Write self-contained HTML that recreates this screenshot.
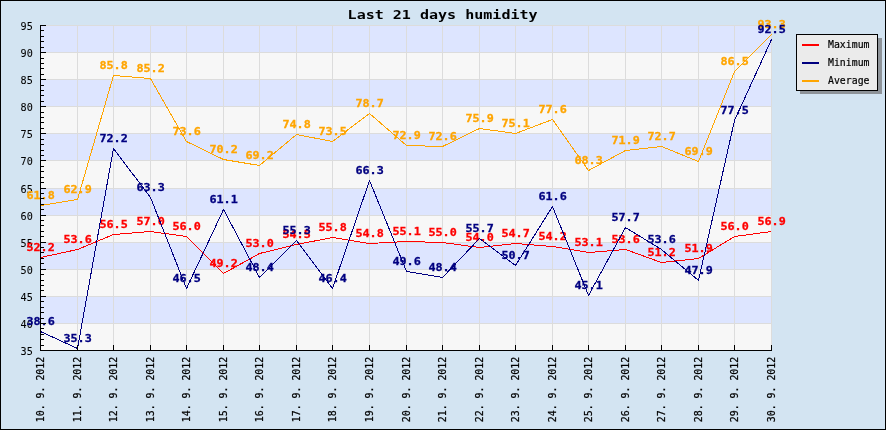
<!DOCTYPE html>
<html lang="en"><head><meta charset="utf-8"><title>Last 21 days humidity</title>
<style>html,body{margin:0;padding:0;background:#D3E4F2;}svg{display:block;}text{font-family:"DejaVu Sans Mono","Liberation Mono",monospace;}.v{font-weight:bold;font-size:11.3px;text-anchor:middle;}.ax{font-family:"Liberation Mono","DejaVu Sans Mono",monospace;font-size:11px;fill:#000;}.lg{font-size:11px;fill:#000;}.t{font-weight:bold;font-size:13px;fill:#000;text-anchor:middle;}</style></head><body>
<svg width="886" height="430" viewBox="0 0 886 430">
<rect x="0" y="0" width="886" height="430" fill="#D3E4F2"/>
<rect x="0.5" y="0.5" width="885" height="429" fill="none" stroke="#000" stroke-width="1"/>
<g shape-rendering="crispEdges">
<rect x="40" y="25" width="732" height="27" fill="#DDE5FF"/>
<rect x="40" y="52" width="732" height="27" fill="#F7F7F7"/>
<rect x="40" y="79" width="732" height="27" fill="#DDE5FF"/>
<rect x="40" y="106" width="732" height="27" fill="#F7F7F7"/>
<rect x="40" y="133" width="732" height="27" fill="#DDE5FF"/>
<rect x="40" y="160" width="732" height="28" fill="#F7F7F7"/>
<rect x="40" y="188" width="732" height="27" fill="#DDE5FF"/>
<rect x="40" y="215" width="732" height="27" fill="#F7F7F7"/>
<rect x="40" y="242" width="732" height="27" fill="#DDE5FF"/>
<rect x="40" y="269" width="732" height="27" fill="#F7F7F7"/>
<rect x="40" y="296" width="732" height="27" fill="#DDE5FF"/>
<rect x="40" y="323" width="732" height="27" fill="#F7F7F7"/>
<rect x="40" y="25" width="732" height="1" fill="#DCDCDC"/>
<rect x="40" y="52" width="732" height="1" fill="#DCDCDC"/>
<rect x="40" y="79" width="732" height="1" fill="#DCDCDC"/>
<rect x="40" y="106" width="732" height="1" fill="#DCDCDC"/>
<rect x="40" y="133" width="732" height="1" fill="#DCDCDC"/>
<rect x="40" y="160" width="732" height="1" fill="#DCDCDC"/>
<rect x="40" y="188" width="732" height="1" fill="#DCDCDC"/>
<rect x="40" y="215" width="732" height="1" fill="#DCDCDC"/>
<rect x="40" y="242" width="732" height="1" fill="#DCDCDC"/>
<rect x="40" y="269" width="732" height="1" fill="#DCDCDC"/>
<rect x="40" y="296" width="732" height="1" fill="#DCDCDC"/>
<rect x="40" y="323" width="732" height="1" fill="#DCDCDC"/>
<rect x="40" y="350" width="732" height="1" fill="#DCDCDC"/>
<rect x="40" y="25" width="1" height="325" fill="#DCDCDC"/>
<rect x="77" y="25" width="1" height="325" fill="#DCDCDC"/>
<rect x="113" y="25" width="1" height="325" fill="#DCDCDC"/>
<rect x="150" y="25" width="1" height="325" fill="#DCDCDC"/>
<rect x="186" y="25" width="1" height="325" fill="#DCDCDC"/>
<rect x="223" y="25" width="1" height="325" fill="#DCDCDC"/>
<rect x="259" y="25" width="1" height="325" fill="#DCDCDC"/>
<rect x="296" y="25" width="1" height="325" fill="#DCDCDC"/>
<rect x="332" y="25" width="1" height="325" fill="#DCDCDC"/>
<rect x="369" y="25" width="1" height="325" fill="#DCDCDC"/>
<rect x="406" y="25" width="1" height="325" fill="#DCDCDC"/>
<rect x="442" y="25" width="1" height="325" fill="#DCDCDC"/>
<rect x="479" y="25" width="1" height="325" fill="#DCDCDC"/>
<rect x="515" y="25" width="1" height="325" fill="#DCDCDC"/>
<rect x="552" y="25" width="1" height="325" fill="#DCDCDC"/>
<rect x="588" y="25" width="1" height="325" fill="#DCDCDC"/>
<rect x="625" y="25" width="1" height="325" fill="#DCDCDC"/>
<rect x="661" y="25" width="1" height="325" fill="#DCDCDC"/>
<rect x="698" y="25" width="1" height="325" fill="#DCDCDC"/>
<rect x="734" y="25" width="1" height="325" fill="#DCDCDC"/>
<rect x="771" y="25" width="1" height="325" fill="#DCDCDC"/>
</g>
<g class="ax" text-anchor="end" stroke="#000" stroke-width="0.08">
<text x="32.8" y="355.2" textLength="12.2" lengthAdjust="spacingAndGlyphs">35</text>
<text x="32.8" y="328.2" textLength="12.2" lengthAdjust="spacingAndGlyphs">40</text>
<text x="32.8" y="301.2" textLength="12.2" lengthAdjust="spacingAndGlyphs">45</text>
<text x="32.8" y="274.2" textLength="12.2" lengthAdjust="spacingAndGlyphs">50</text>
<text x="32.8" y="247.2" textLength="12.2" lengthAdjust="spacingAndGlyphs">55</text>
<text x="32.8" y="220.2" textLength="12.2" lengthAdjust="spacingAndGlyphs">60</text>
<text x="32.8" y="193.2" textLength="12.2" lengthAdjust="spacingAndGlyphs">65</text>
<text x="32.8" y="165.2" textLength="12.2" lengthAdjust="spacingAndGlyphs">70</text>
<text x="32.8" y="138.2" textLength="12.2" lengthAdjust="spacingAndGlyphs">75</text>
<text x="32.8" y="111.2" textLength="12.2" lengthAdjust="spacingAndGlyphs">80</text>
<text x="32.8" y="84.2" textLength="12.2" lengthAdjust="spacingAndGlyphs">85</text>
<text x="32.8" y="57.2" textLength="12.2" lengthAdjust="spacingAndGlyphs">90</text>
<text x="32.8" y="30.2" textLength="12.2" lengthAdjust="spacingAndGlyphs">95</text>
</g>
<g class="ax" text-anchor="end" stroke="#000" stroke-width="0.25">
<text transform="translate(44.2,356.8) rotate(-90)" textLength="65.4" lengthAdjust="spacingAndGlyphs">10. 9. 2012</text>
<text transform="translate(81.2,356.8) rotate(-90)" textLength="65.4" lengthAdjust="spacingAndGlyphs">11. 9. 2012</text>
<text transform="translate(117.2,356.8) rotate(-90)" textLength="65.4" lengthAdjust="spacingAndGlyphs">12. 9. 2012</text>
<text transform="translate(154.2,356.8) rotate(-90)" textLength="65.4" lengthAdjust="spacingAndGlyphs">13. 9. 2012</text>
<text transform="translate(190.2,356.8) rotate(-90)" textLength="65.4" lengthAdjust="spacingAndGlyphs">14. 9. 2012</text>
<text transform="translate(227.2,356.8) rotate(-90)" textLength="65.4" lengthAdjust="spacingAndGlyphs">15. 9. 2012</text>
<text transform="translate(263.2,356.8) rotate(-90)" textLength="65.4" lengthAdjust="spacingAndGlyphs">16. 9. 2012</text>
<text transform="translate(300.2,356.8) rotate(-90)" textLength="65.4" lengthAdjust="spacingAndGlyphs">17. 9. 2012</text>
<text transform="translate(336.2,356.8) rotate(-90)" textLength="65.4" lengthAdjust="spacingAndGlyphs">18. 9. 2012</text>
<text transform="translate(373.2,356.8) rotate(-90)" textLength="65.4" lengthAdjust="spacingAndGlyphs">19. 9. 2012</text>
<text transform="translate(410.2,356.8) rotate(-90)" textLength="65.4" lengthAdjust="spacingAndGlyphs">20. 9. 2012</text>
<text transform="translate(446.2,356.8) rotate(-90)" textLength="65.4" lengthAdjust="spacingAndGlyphs">21. 9. 2012</text>
<text transform="translate(483.2,356.8) rotate(-90)" textLength="65.4" lengthAdjust="spacingAndGlyphs">22. 9. 2012</text>
<text transform="translate(519.2,356.8) rotate(-90)" textLength="65.4" lengthAdjust="spacingAndGlyphs">23. 9. 2012</text>
<text transform="translate(556.2,356.8) rotate(-90)" textLength="65.4" lengthAdjust="spacingAndGlyphs">24. 9. 2012</text>
<text transform="translate(592.2,356.8) rotate(-90)" textLength="65.4" lengthAdjust="spacingAndGlyphs">25. 9. 2012</text>
<text transform="translate(629.2,356.8) rotate(-90)" textLength="65.4" lengthAdjust="spacingAndGlyphs">26. 9. 2012</text>
<text transform="translate(665.2,356.8) rotate(-90)" textLength="65.4" lengthAdjust="spacingAndGlyphs">27. 9. 2012</text>
<text transform="translate(702.2,356.8) rotate(-90)" textLength="65.4" lengthAdjust="spacingAndGlyphs">28. 9. 2012</text>
<text transform="translate(738.2,356.8) rotate(-90)" textLength="65.4" lengthAdjust="spacingAndGlyphs">29. 9. 2012</text>
<text transform="translate(775.2,356.8) rotate(-90)" textLength="65.4" lengthAdjust="spacingAndGlyphs">30. 9. 2012</text>
</g>
<g class="v" fill="#FFA500" stroke="#FFA500" stroke-width="0.3">
 <text x="40.6" y="198.5" textLength="28.3" lengthAdjust="spacingAndGlyphs">61.8</text>
 <text x="77.6" y="192.5" textLength="28.3" lengthAdjust="spacingAndGlyphs">62.9</text>
 <text x="113.6" y="68.5" textLength="28.3" lengthAdjust="spacingAndGlyphs">85.8</text>
 <text x="150.6" y="71.5" textLength="28.3" lengthAdjust="spacingAndGlyphs">85.2</text>
 <text x="186.6" y="134.5" textLength="28.3" lengthAdjust="spacingAndGlyphs">73.6</text>
 <text x="223.6" y="152.5" textLength="28.3" lengthAdjust="spacingAndGlyphs">70.2</text>
 <text x="259.6" y="158.5" textLength="28.3" lengthAdjust="spacingAndGlyphs">69.2</text>
 <text x="296.6" y="127.5" textLength="28.3" lengthAdjust="spacingAndGlyphs">74.8</text>
 <text x="332.6" y="134.5" textLength="28.3" lengthAdjust="spacingAndGlyphs">73.5</text>
 <text x="369.6" y="106.5" textLength="28.3" lengthAdjust="spacingAndGlyphs">78.7</text>
 <text x="406.6" y="138.5" textLength="28.3" lengthAdjust="spacingAndGlyphs">72.9</text>
 <text x="442.6" y="139.5" textLength="28.3" lengthAdjust="spacingAndGlyphs">72.6</text>
 <text x="479.6" y="121.5" textLength="28.3" lengthAdjust="spacingAndGlyphs">75.9</text>
 <text x="515.6" y="126.5" textLength="28.3" lengthAdjust="spacingAndGlyphs">75.1</text>
 <text x="552.6" y="112.5" textLength="28.3" lengthAdjust="spacingAndGlyphs">77.6</text>
 <text x="588.6" y="163.5" textLength="28.3" lengthAdjust="spacingAndGlyphs">68.3</text>
 <text x="625.6" y="143.5" textLength="28.3" lengthAdjust="spacingAndGlyphs">71.9</text>
 <text x="661.6" y="139.5" textLength="28.3" lengthAdjust="spacingAndGlyphs">72.7</text>
 <text x="698.6" y="154.5" textLength="28.3" lengthAdjust="spacingAndGlyphs">69.9</text>
 <text x="734.6" y="64.5" textLength="28.3" lengthAdjust="spacingAndGlyphs">86.5</text>
 <text x="771.6" y="27.5" textLength="28.3" lengthAdjust="spacingAndGlyphs">93.3</text>
</g>
<polyline points="40.5,205.5 77.5,199.5 113.5,75.5 150.5,78.5 186.5,141.5 223.5,159.5 259.5,165.5 296.5,134.5 332.5,141.5 369.5,113.5 406.5,145.5 442.5,146.5 479.5,128.5 515.5,133.5 552.5,119.5 588.5,170.5 625.5,150.5 661.5,146.5 698.5,161.5 734.5,71.5 771.5,34.5" fill="none" stroke="#FFA500" stroke-width="1" stroke-linejoin="round" shape-rendering="crispEdges"/>
<g class="v" fill="#FF0000" stroke="#FF0000" stroke-width="0.3">
 <text x="40.6" y="250.5" textLength="28.3" lengthAdjust="spacingAndGlyphs">52.2</text>
 <text x="77.6" y="242.5" textLength="28.3" lengthAdjust="spacingAndGlyphs">53.6</text>
 <text x="113.6" y="227.5" textLength="28.3" lengthAdjust="spacingAndGlyphs">56.5</text>
 <text x="150.6" y="224.5" textLength="28.3" lengthAdjust="spacingAndGlyphs">57.0</text>
 <text x="186.6" y="229.5" textLength="28.3" lengthAdjust="spacingAndGlyphs">56.0</text>
 <text x="223.6" y="266.5" textLength="28.3" lengthAdjust="spacingAndGlyphs">49.2</text>
 <text x="259.6" y="246.5" textLength="28.3" lengthAdjust="spacingAndGlyphs">53.0</text>
 <text x="296.6" y="237.5" textLength="28.3" lengthAdjust="spacingAndGlyphs">54.5</text>
 <text x="332.6" y="230.5" textLength="28.3" lengthAdjust="spacingAndGlyphs">55.8</text>
 <text x="369.6" y="236.5" textLength="28.3" lengthAdjust="spacingAndGlyphs">54.8</text>
 <text x="406.6" y="234.5" textLength="28.3" lengthAdjust="spacingAndGlyphs">55.1</text>
 <text x="442.6" y="235.5" textLength="28.3" lengthAdjust="spacingAndGlyphs">55.0</text>
 <text x="479.6" y="240.5" textLength="28.3" lengthAdjust="spacingAndGlyphs">54.0</text>
 <text x="515.6" y="236.5" textLength="28.3" lengthAdjust="spacingAndGlyphs">54.7</text>
 <text x="552.6" y="239.5" textLength="28.3" lengthAdjust="spacingAndGlyphs">54.2</text>
 <text x="588.6" y="245.5" textLength="28.3" lengthAdjust="spacingAndGlyphs">53.1</text>
 <text x="625.6" y="242.5" textLength="28.3" lengthAdjust="spacingAndGlyphs">53.6</text>
 <text x="661.6" y="255.5" textLength="28.3" lengthAdjust="spacingAndGlyphs">51.2</text>
 <text x="698.6" y="251.5" textLength="28.3" lengthAdjust="spacingAndGlyphs">51.9</text>
 <text x="734.6" y="229.5" textLength="28.3" lengthAdjust="spacingAndGlyphs">56.0</text>
 <text x="771.6" y="224.5" textLength="28.3" lengthAdjust="spacingAndGlyphs">56.9</text>
</g>
<polyline points="40.5,257.5 77.5,249.5 113.5,234.5 150.5,231.5 186.5,236.5 223.5,273.5 259.5,253.5 296.5,244.5 332.5,237.5 369.5,243.5 406.5,241.5 442.5,242.5 479.5,247.5 515.5,243.5 552.5,246.5 588.5,252.5 625.5,249.5 661.5,262.5 698.5,258.5 734.5,236.5 771.5,231.5" fill="none" stroke="#FF0000" stroke-width="1" stroke-linejoin="round" shape-rendering="crispEdges"/>
<g class="v" fill="#000080" stroke="#000080" stroke-width="0.3">
 <text x="40.6" y="324.5" textLength="28.3" lengthAdjust="spacingAndGlyphs">38.6</text>
 <text x="77.6" y="341.5" textLength="28.3" lengthAdjust="spacingAndGlyphs">35.3</text>
 <text x="113.6" y="141.5" textLength="28.3" lengthAdjust="spacingAndGlyphs">72.2</text>
 <text x="150.6" y="190.5" textLength="28.3" lengthAdjust="spacingAndGlyphs">63.3</text>
 <text x="186.6" y="281.5" textLength="28.3" lengthAdjust="spacingAndGlyphs">46.5</text>
 <text x="223.6" y="202.5" textLength="28.3" lengthAdjust="spacingAndGlyphs">61.1</text>
 <text x="259.6" y="270.5" textLength="28.3" lengthAdjust="spacingAndGlyphs">48.4</text>
 <text x="296.6" y="233.5" textLength="28.3" lengthAdjust="spacingAndGlyphs">55.3</text>
 <text x="332.6" y="281.5" textLength="28.3" lengthAdjust="spacingAndGlyphs">46.4</text>
 <text x="369.6" y="173.5" textLength="28.3" lengthAdjust="spacingAndGlyphs">66.3</text>
 <text x="406.6" y="264.5" textLength="28.3" lengthAdjust="spacingAndGlyphs">49.6</text>
 <text x="442.6" y="270.5" textLength="28.3" lengthAdjust="spacingAndGlyphs">48.4</text>
 <text x="479.6" y="231.5" textLength="28.3" lengthAdjust="spacingAndGlyphs">55.7</text>
 <text x="515.6" y="258.5" textLength="28.3" lengthAdjust="spacingAndGlyphs">50.7</text>
 <text x="552.6" y="199.5" textLength="28.3" lengthAdjust="spacingAndGlyphs">61.6</text>
 <text x="588.6" y="288.5" textLength="28.3" lengthAdjust="spacingAndGlyphs">45.1</text>
 <text x="625.6" y="220.5" textLength="28.3" lengthAdjust="spacingAndGlyphs">57.7</text>
 <text x="661.6" y="242.5" textLength="28.3" lengthAdjust="spacingAndGlyphs">53.6</text>
 <text x="698.6" y="273.5" textLength="28.3" lengthAdjust="spacingAndGlyphs">47.9</text>
 <text x="734.6" y="113.5" textLength="28.3" lengthAdjust="spacingAndGlyphs">77.5</text>
 <text x="771.6" y="32.5" textLength="28.3" lengthAdjust="spacingAndGlyphs">92.5</text>
</g>
<polyline points="40.5,331.5 77.5,348.5 113.5,148.5 150.5,197.5 186.5,288.5 223.5,209.5 259.5,277.5 296.5,240.5 332.5,288.5 369.5,180.5 406.5,271.5 442.5,277.5 479.5,238.5 515.5,265.5 552.5,206.5 588.5,295.5 625.5,227.5 661.5,249.5 698.5,280.5 734.5,120.5 771.5,39.5" fill="none" stroke="#000080" stroke-width="1" stroke-linejoin="round" shape-rendering="crispEdges"/>
<g shape-rendering="crispEdges" fill="#000">
<rect x="40" y="25" width="1" height="326"/>
<rect x="40" y="350" width="732" height="1"/>
<rect x="40" y="350" width="6" height="1"/>
<rect x="40" y="345" width="4" height="1"/>
<rect x="40" y="339" width="4" height="1"/>
<rect x="40" y="334" width="4" height="1"/>
<rect x="40" y="328" width="4" height="1"/>
<rect x="40" y="323" width="6" height="1"/>
<rect x="40" y="318" width="4" height="1"/>
<rect x="40" y="312" width="4" height="1"/>
<rect x="40" y="307" width="4" height="1"/>
<rect x="40" y="301" width="4" height="1"/>
<rect x="40" y="296" width="6" height="1"/>
<rect x="40" y="290" width="4" height="1"/>
<rect x="40" y="285" width="4" height="1"/>
<rect x="40" y="280" width="4" height="1"/>
<rect x="40" y="274" width="4" height="1"/>
<rect x="40" y="269" width="6" height="1"/>
<rect x="40" y="263" width="4" height="1"/>
<rect x="40" y="258" width="4" height="1"/>
<rect x="40" y="252" width="4" height="1"/>
<rect x="40" y="247" width="4" height="1"/>
<rect x="40" y="242" width="6" height="1"/>
<rect x="40" y="236" width="4" height="1"/>
<rect x="40" y="231" width="4" height="1"/>
<rect x="40" y="225" width="4" height="1"/>
<rect x="40" y="220" width="4" height="1"/>
<rect x="40" y="215" width="6" height="1"/>
<rect x="40" y="209" width="4" height="1"/>
<rect x="40" y="204" width="4" height="1"/>
<rect x="40" y="198" width="4" height="1"/>
<rect x="40" y="193" width="4" height="1"/>
<rect x="40" y="188" width="6" height="1"/>
<rect x="40" y="182" width="4" height="1"/>
<rect x="40" y="177" width="4" height="1"/>
<rect x="40" y="171" width="4" height="1"/>
<rect x="40" y="166" width="4" height="1"/>
<rect x="40" y="160" width="6" height="1"/>
<rect x="40" y="155" width="4" height="1"/>
<rect x="40" y="150" width="4" height="1"/>
<rect x="40" y="144" width="4" height="1"/>
<rect x="40" y="139" width="4" height="1"/>
<rect x="40" y="133" width="6" height="1"/>
<rect x="40" y="128" width="4" height="1"/>
<rect x="40" y="122" width="4" height="1"/>
<rect x="40" y="117" width="4" height="1"/>
<rect x="40" y="112" width="4" height="1"/>
<rect x="40" y="106" width="6" height="1"/>
<rect x="40" y="101" width="4" height="1"/>
<rect x="40" y="95" width="4" height="1"/>
<rect x="40" y="90" width="4" height="1"/>
<rect x="40" y="85" width="4" height="1"/>
<rect x="40" y="79" width="6" height="1"/>
<rect x="40" y="74" width="4" height="1"/>
<rect x="40" y="68" width="4" height="1"/>
<rect x="40" y="63" width="4" height="1"/>
<rect x="40" y="58" width="4" height="1"/>
<rect x="40" y="52" width="6" height="1"/>
<rect x="40" y="47" width="4" height="1"/>
<rect x="40" y="41" width="4" height="1"/>
<rect x="40" y="36" width="4" height="1"/>
<rect x="40" y="30" width="4" height="1"/>
<rect x="40" y="25" width="6" height="1"/>
<rect x="40" y="345" width="1" height="6"/>
<rect x="77" y="345" width="1" height="6"/>
<rect x="113" y="345" width="1" height="6"/>
<rect x="150" y="345" width="1" height="6"/>
<rect x="186" y="345" width="1" height="6"/>
<rect x="223" y="345" width="1" height="6"/>
<rect x="259" y="345" width="1" height="6"/>
<rect x="296" y="345" width="1" height="6"/>
<rect x="332" y="345" width="1" height="6"/>
<rect x="369" y="345" width="1" height="6"/>
<rect x="406" y="345" width="1" height="6"/>
<rect x="442" y="345" width="1" height="6"/>
<rect x="479" y="345" width="1" height="6"/>
<rect x="515" y="345" width="1" height="6"/>
<rect x="552" y="345" width="1" height="6"/>
<rect x="588" y="345" width="1" height="6"/>
<rect x="625" y="345" width="1" height="6"/>
<rect x="661" y="345" width="1" height="6"/>
<rect x="698" y="345" width="1" height="6"/>
<rect x="734" y="345" width="1" height="6"/>
<rect x="771" y="345" width="1" height="6"/>
</g>
<text class="t" x="442.6" y="18.8" textLength="190" lengthAdjust="spacingAndGlyphs">Last 21 days humidity</text>
<g shape-rendering="crispEdges">
<rect x="800" y="38" width="81.5" height="56" fill="#8E9399"/>
 <rect x="796.5" y="34.5" width="81" height="56" fill="#EBEBEB" stroke="#000" stroke-width="1"/>
<rect x="802" y="44" width="17" height="2" fill="#FF0000"/>
<rect x="802" y="62" width="17" height="2" fill="#000080"/>
<rect x="802" y="80" width="17" height="2" fill="#FFA500"/>
</g>
<g class="lg" stroke="#000" stroke-width="0.2">
<text x="828" y="47.6" textLength="41.5" lengthAdjust="spacingAndGlyphs">Maximum</text>
<text x="828" y="65.6" textLength="41.5" lengthAdjust="spacingAndGlyphs">Minimum</text>
<text x="828" y="83.6" textLength="41.5" lengthAdjust="spacingAndGlyphs">Average</text>
</g>
</svg></body></html>
